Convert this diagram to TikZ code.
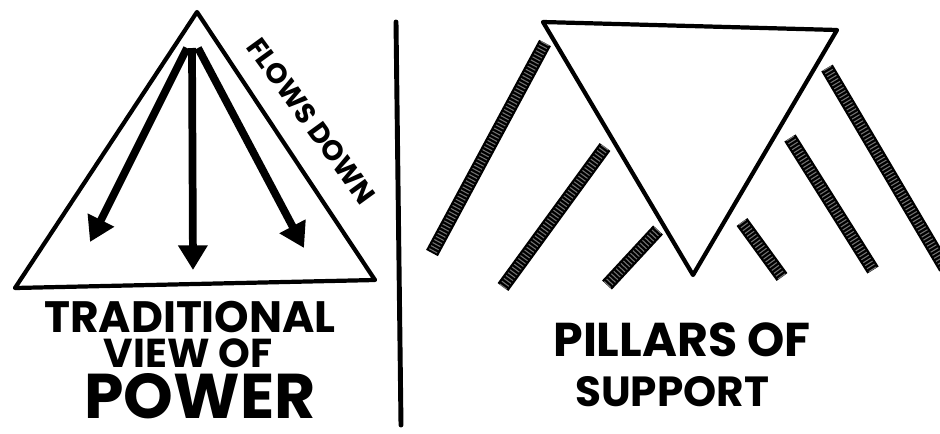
\documentclass[tikz,border=0pt]{standalone}
\usepackage{fontspec}
\setmainfont{Poppins}
\usetikzlibrary{positioning,arrows.meta}

\begin{document}
\begin{tikzpicture}[
    x=0.02cm, y=-0.02cm,
    trazo/.style={
        line width=2.4pt,
        line join=round,
        line cap=round
    },
    flecha/.style={line width=4.4pt, ->},
    pilar/.style={
        draw=black!55,
        line width=5pt,
        dash pattern=on 0.6pt off 1.4pt,
        preaction={draw=black, line width=7.6pt, solid}
    },
    rotulo/.style={font=\bfseries, inner sep=0pt},
    >={Triangle[length=14pt,width=16pt]}
]
\useasboundingbox (0,0) rectangle (940,433);

% piramide tradicional
\coordinate (cima) at (197,12);
\coordinate (baseizq) at (15,288);
\coordinate (baseder) at (375,280);
\draw[trazo] (cima) -- (baseizq) -- (baseder) -- cycle;

\coordinate (origenizq) at (187,48);
\coordinate (origencen) at (192,48);
\coordinate (origender) at (198,48);
\coordinate (puntaizq) at (90,242);
\coordinate (puntacen) at (193,270);
\coordinate (puntader) at (304,248);

\draw[flecha] (origenizq) -- (puntaizq);
\draw[flecha] (origencen) -- (puntacen);
\draw[flecha] (origender) -- (puntader);

\node[rotulo, rotate=-54, font=\bfseries\fontsize{16}{16}\selectfont] (fluye) at (311,121) {FLOWS DOWN};

\node[rotulo, font=\bfseries\fontsize{25}{25}\selectfont] (tradicional) at (190,317) {TRADITIONAL};
\node[rotulo, font=\bfseries\fontsize{23}{23}\selectfont] (vista) at (188,353) {VIEW OF};
\node[rotulo, font=\bfseries\fontsize{36}{36}\selectfont] (poder) at (200,396) {POWER};

% separador
\coordinate (sepsup) at (396,22);
\coordinate (sepinf) at (401,425);
\draw[trazo, line width=2.8pt] (sepsup) -- (sepinf);

% triangulo invertido
\coordinate (supizq) at (543,22);
\coordinate (supder) at (837,30);
\coordinate (vertice) at (693,275);
\draw[trazo] (supizq) -- (supder) -- (vertice) -- cycle;

% pilares
\draw[pilar] (545,43) -- (432,253);
\draw[pilar] (605,147) -- (503,287);
\draw[pilar] (658,230) -- (607,285);
\draw[pilar] (742,222) -- (782,277);
\draw[pilar] (790,138) -- (873,270);
\draw[pilar] (827,68) -- (945,268);

\node[rotulo, font=\bfseries\fontsize{27}{27}\selectfont] (pilares) at (682,340) {PILLARS OF};
\node[rotulo, font=\bfseries\fontsize{24}{24}\selectfont] (apoyo) at (672,392) {SUPPORT};

\end{tikzpicture}
\end{document}
